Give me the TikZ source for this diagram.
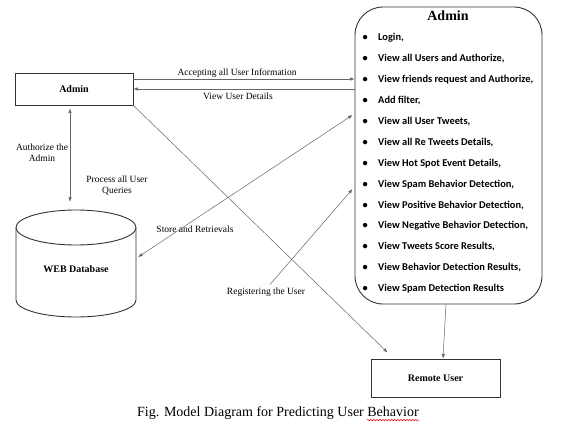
\documentclass[tikz,border=0pt]{standalone}
\usepackage{fontspec}
\setmainfont{Liberation Serif}
\newfontfamily\listfont{Carlito}
\usetikzlibrary{arrows.meta,decorations.pathmorphing}
\begin{document}
\begin{tikzpicture}[x=1pt,y=-1pt,
  box/.style={draw=black!80, line width=0.9pt, inner sep=0pt},
  conn/.style={draw=black!60, line width=0.5pt},
  tip/.style={-{Latex[length=4.5pt,width=3.5pt]}},
  tipboth/.style={{Latex[length=4.5pt,width=3.5pt]}-{Latex[length=4.5pt,width=3.5pt]}},
  lbl/.style={font=\fontsize{9.5}{11}\selectfont, inner sep=0pt, align=center},
  listitem/.style={font=\listfont\bfseries\fontsize{10.4}{12}\selectfont, anchor=west, inner sep=0pt},
  ]
\useasboundingbox (0,0) rectangle (561,432);
\fill[white] (0,0) rectangle (561,432);

% nodes
\node[box, minimum width=118pt, minimum height=32pt, font=\bfseries\fontsize{10}{12}\selectfont] (adminL) at (74,89) {Admin};
\node[box, rounded corners=28pt, minimum width=187pt, minimum height=297pt] (adminR) at (448.5,155.5) {};
\node[font=\bfseries\fontsize{14}{16}\selectfont, inner sep=0pt] (title) at (448,16) {Admin};
\foreach \t [count=\i] in {{Login,},{View all Users and Authorize,},{View friends request and Authorize,},{Add filter,},{View all User Tweets,},{View all Re Tweets Details,},{View Hot Spot Event Details,},{View Spam Behavior Detection,},{View Positive Behavior Detection,},{View Negative Behavior Detection,},{View Tweets Score Results,},{View Behavior Detection Results,},{View Spam Detection Results}}
  \node[listitem] (item\i) at (362.5,{38+(\i-1)*20.9}) {\makebox[15.5pt][l]{•}\t};
\node[box, minimum width=129pt, minimum height=38pt, font=\bfseries\fontsize{10}{12}\selectfont] (remote) at (435.5,378) {Remote User};

% database cylinder
\node[minimum width=120pt, minimum height=107pt, inner sep=0pt] (db) at (76,263.5) {};
\draw[black!80, line width=0.9pt, fill=white] (16,227.5) -- (16,300) arc[start angle=180, end angle=360, x radius=60pt, y radius=17pt] -- (136,227.5);
\draw[black!80, line width=0.9pt] (76,227.5) ellipse [x radius=60pt, y radius=17.5pt];
\node[font=\bfseries\fontsize{10}{12}\selectfont, inner sep=0pt] (dbtext) at (76,269) {WEB Database};

% labels
\node[lbl] (l1) at (237,73) {Accepting all User Information};
\node[lbl] (l2) at (238,96) {View User Details};
\node[lbl] (l3) at (42,153) {Authorize the\\Admin};
\node[lbl] (l4) at (117,185) {Process all User\\Queries};
\node[lbl] (l5) at (195,229) {Store and Retrievals};
\node[lbl] (l6) at (266,292) {Registering the User};

% connectors
\coordinate (a1) at ([yshift=10pt]adminL.east);
\draw[conn,tip] (a1) -- (a1 -| adminR.west);
\draw[conn,tip] (adminL.east -| adminR.west) -- (adminL.east);
\coordinate (v1) at ([xshift=-4pt,yshift=-3pt]adminL.south);
\coordinate (v2) at ([yshift=8pt]db.north -| v1);
\draw[conn,tipboth] (v1) -- (v2);
\draw[conn,tipboth] ([shift={(2pt,6.5pt)}]db.east) -- ([shift={(-2pt,40.5pt)}]adminR.west);
\draw[conn,tip] ([shift={(4pt,3pt)}]l6.north) -- ([shift={(-2pt,-33.5pt)}]adminR.west);
\draw[conn,tip] (adminL.south east) -- ([shift={(17pt,6pt)}]remote.north west);
\draw[conn,tip] ([xshift=-2.5pt]adminR.south) -- ([xshift=7.5pt]remote.north);

% caption
\node[font=\fontsize{14}{16}\selectfont, anchor=west, inner sep=0pt] (cap) at (137,413) {Fig. Model Diagram for Predicting User Behavior};
\draw[red, line width=0.5pt, decorate, decoration={snake, amplitude=0.8pt, segment length=3pt}] ([xshift=-52pt,yshift=-0.5pt]cap.south east) -- ([yshift=-0.5pt]cap.south east);
\end{tikzpicture}
\end{document}
